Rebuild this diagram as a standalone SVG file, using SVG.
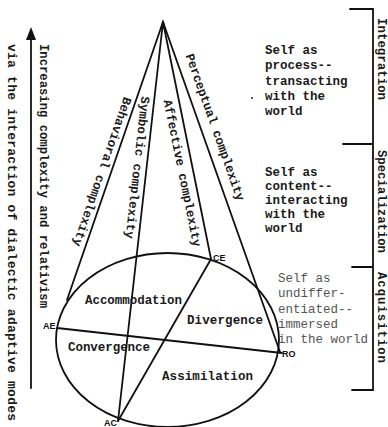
<svg xmlns="http://www.w3.org/2000/svg" width="388" height="427" viewBox="0 0 388 427">
<defs>
<style>
.ln{stroke:#111;stroke-width:1.8;fill:none;stroke-linecap:round}
.t{font-family:"Liberation Mono","DejaVu Sans Mono",monospace;font-weight:bold;fill:#1a1a1a}
.s{font-size:12.5px}
.lt{font-family:"Liberation Mono","DejaVu Sans Mono",monospace;fill:#555;font-size:12.5px}
.pt{font-family:"Liberation Sans",Arial,sans-serif;font-weight:bold;fill:#111;font-size:9px}
</style>
</defs>
<rect width="388" height="427" fill="#fff"/>

<g id="connectors">
<line class="ln" x1="163" y1="22" x2="67" y2="300"/>
<line class="ln" x1="163" y1="22" x2="118" y2="421"/>
<line class="ln" x1="163" y1="22" x2="211" y2="259"/>
<line class="ln" x1="163" y1="22" x2="280" y2="352"/>
<line class="ln" x1="211" y1="259" x2="118" y2="421"/>
<line class="ln" x1="57" y1="328" x2="282" y2="353"/>
<polygon points="160,29 163,19 166,29" fill="#111"/>
</g>

<g id="ellipse">
<ellipse class="ln" cx="167.5" cy="340" rx="111.5" ry="87"/>
</g>

<g id="line-labels" class="t s">
<text transform="translate(163,22) rotate(109.05)" x="83" y="12.5" textLength="157" lengthAdjust="spacing">Behavioral complexity</text>
<text transform="translate(163,22) rotate(96.45)" x="76" y="13" textLength="143" lengthAdjust="spacing">Symbolic complexity</text>
<text transform="translate(163,22) rotate(78.55)" x="77" y="15" textLength="150" lengthAdjust="spacing">Affective complexity</text>
<text transform="translate(163,22) rotate(70.48)" x="39" y="-10" textLength="155" lengthAdjust="spacing">Perceptual complexity</text>
</g>

<g id="quadrants" class="t s">
<text x="85" y="304" textLength="97" lengthAdjust="spacing">Accommodation</text>
<text x="187" y="324" textLength="76" lengthAdjust="spacing">Divergence</text>
<text x="68" y="351" textLength="82" lengthAdjust="spacing">Convergence</text>
<text x="162" y="380" textLength="91" lengthAdjust="spacing">Assimilation</text>
</g>

<g id="poles">
<text class="pt" x="213" y="261">CE</text>
<text class="pt" x="282" y="357">RO</text>
<text class="pt" x="43" y="329">AE</text>
<text class="pt" x="104" y="426">AC</text>
</g>

<g id="axis-arrow">
<line class="ln" x1="31" y1="36" x2="31" y2="388"/>
<polygon points="31,27 26,40 36,40" fill="#111"/>
<text class="t" font-size="12.2" transform="translate(39.5,44) rotate(90)" textLength="264" lengthAdjust="spacing">Increasing complexity and relativism</text>
<text class="t" font-size="13" transform="translate(8,44) rotate(90)" textLength="377" lengthAdjust="spacing">via the interaction of dialectic adaptive modes</text>
</g>

<g id="self-process" class="t s">
<text x="265" y="54">Self as</text>
<text x="265" y="69">process--</text>
<text x="265" y="85">transacting</text>
<text x="265" y="100">with the</text>
<text x="265" y="115">world</text>
<circle cx="252" cy="98" r="1.1" fill="#333"/>
</g>

<g id="self-content" class="t s">
<text x="265" y="176">Self as</text>
<text x="265" y="190">content--</text>
<text x="265" y="204">interacting</text>
<text x="265" y="218">with the</text>
<text x="265" y="232">world</text>
</g>

<g id="self-undifferentiated" class="lt">
<text x="278" y="282">Self as</text>
<text x="278" y="297">undiffer-</text>
<text x="278" y="313">entiated--</text>
<text x="278" y="328">immersed</text>
<text x="278" y="343">in the world</text>
</g>

<g id="stages">
<path class="ln" d="M350,9 H373 V390 H352 M343,144 H373 M352,267 H373"/>
<g class="t" font-size="12.3">
<text transform="translate(378,18) rotate(90)" textLength="82" lengthAdjust="spacing">Integration</text>
<text transform="translate(378,150) rotate(90)" textLength="103" lengthAdjust="spacing">Specialization</text>
<text transform="translate(378,272) rotate(90)" textLength="91" lengthAdjust="spacing">Acquisition</text>
</g>
</g>
</svg>
